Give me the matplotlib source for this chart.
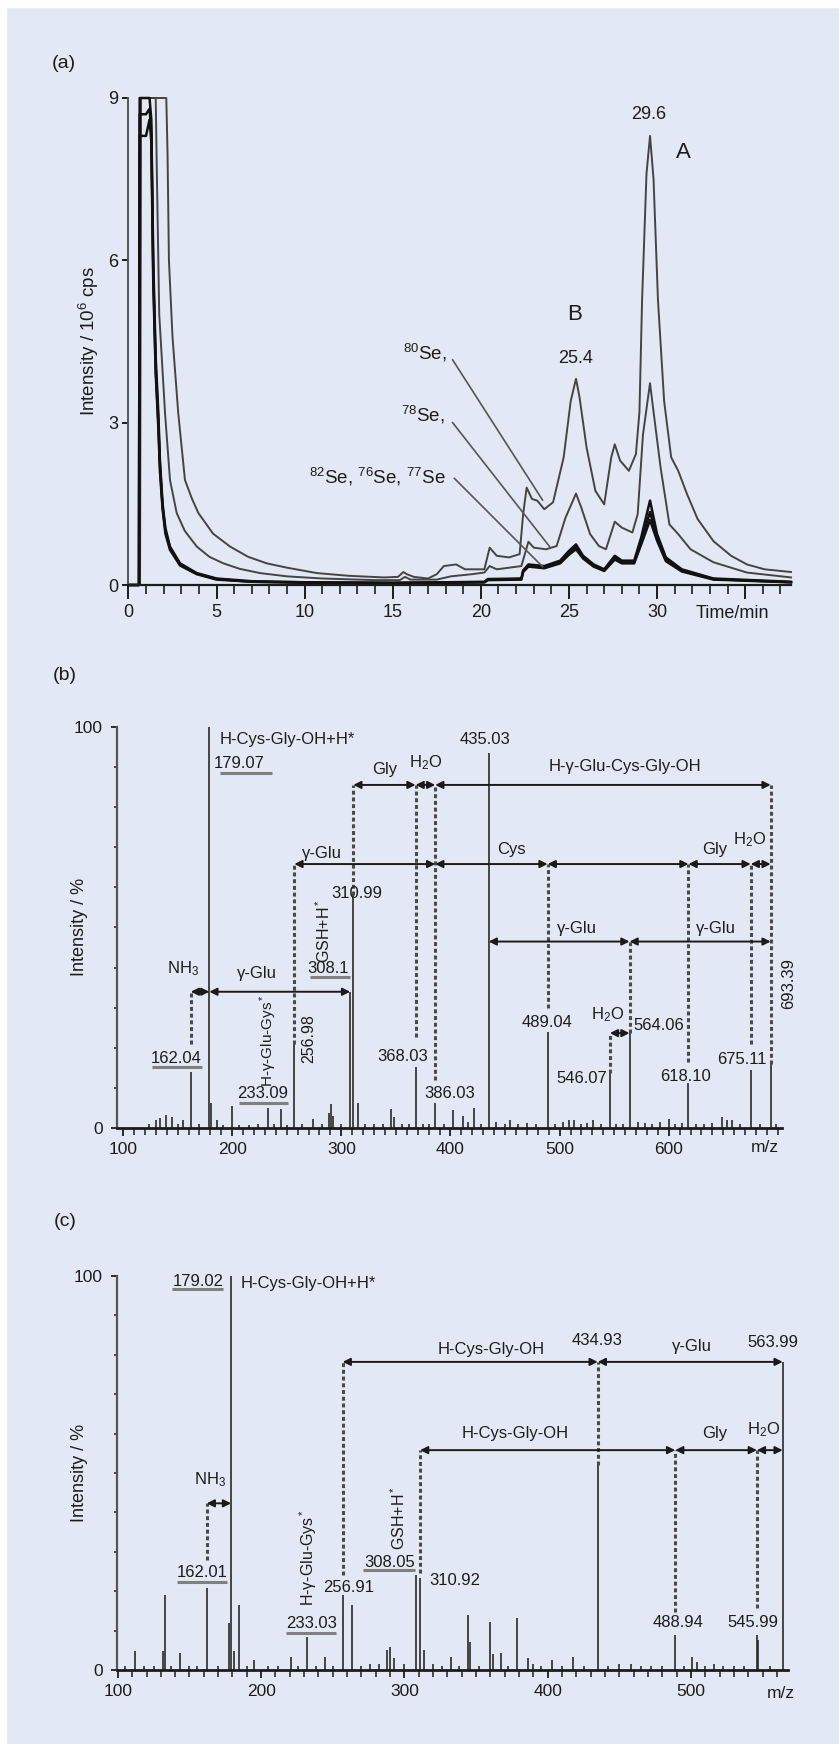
import matplotlib.pyplot as plt
from matplotlib.patches import Rectangle

plt.rcParams['font.family'] = ['Liberation Sans', 'DejaVu Sans']
plt.rcParams['mathtext.fontset'] = 'custom'
plt.rcParams['mathtext.rm'] = 'Liberation Sans'
plt.rcParams['mathtext.it'] = 'Liberation Sans:italic'
plt.rcParams['mathtext.bf'] = 'Liberation Sans:bold'

W, H = 839, 1744
BG = '#e2e9f4'
INK = '#1c1c1c'

# ---------------- data: (a) chromatogram ----------------
se80_t = [0, 0.66, 0.72, 2.15, 2.22, 2.3, 2.5, 2.83, 3.21, 3.6, 3.97, 4.8, 5.77, 6.8, 7.85, 9.0,
          10.7, 12.5, 14.5, 15.3, 15.6, 15.8, 16.2, 17.0, 17.5, 17.9, 18.6, 19.1, 20.2, 20.5,
          20.9, 21.6, 22.2, 22.4, 22.6, 22.9, 23.2, 23.6, 24.1, 24.7, 25.1, 25.4, 25.6, 26.0,
          26.5, 27.0, 27.4, 27.6, 27.9, 28.4, 28.8, 29.0, 29.15, 29.4, 29.6, 29.8, 30.05, 30.4,
          30.8, 31.2, 31.7, 32.3, 33.2, 34.2, 35.1, 36.1, 37.6]
se80_i = [0, 0, 9, 9, 8.0, 6.0, 4.6, 3.17, 1.94, 1.6, 1.33, 0.95, 0.71, 0.52, 0.40, 0.32,
          0.22, 0.17, 0.14, 0.15, 0.24, 0.20, 0.15, 0.12, 0.20, 0.35, 0.38, 0.29, 0.29, 0.69,
          0.54, 0.51, 0.57, 1.31, 1.80, 1.59, 1.56, 1.40, 1.53, 2.36, 3.40, 3.81, 3.47, 2.54,
          1.74, 1.49, 2.36, 2.60, 2.30, 2.11, 2.42, 3.2, 5.27, 7.6, 8.3, 7.5, 5.27, 3.4,
          2.36, 2.11, 1.68, 1.22, 0.81, 0.54, 0.38, 0.29, 0.24]

se78_t = [0, 0.62, 0.68, 1.55, 1.62, 1.75, 2.08, 2.36, 2.74, 3.2, 3.88, 4.6, 5.39, 6.3, 7.47,
          9.0, 11.0, 14.0, 15.4, 15.7, 16.0, 17.5, 18.3, 19.5, 20.2, 20.5, 20.9, 22.3, 22.7,
          23.0, 23.7, 24.3, 24.8, 25.4, 25.7, 26.2, 26.7, 27.1, 27.6, 28.0, 28.6, 28.9, 29.2,
          29.6, 29.8, 30.2, 30.7, 31.2, 31.9, 33.2, 35.1, 37.6]
se78_i = [0, 0, 9, 9, 7.5, 5.0, 3.17, 1.94, 1.33, 1.0, 0.71, 0.52, 0.40, 0.30, 0.22,
          0.16, 0.12, 0.09, 0.09, 0.15, 0.10, 0.10, 0.16, 0.20, 0.23, 0.35, 0.29, 0.35, 0.80,
          0.69, 0.66, 0.72, 1.24, 1.69, 1.43, 0.94, 0.72, 0.66, 1.17, 1.06, 0.97, 1.31, 2.78,
          3.73, 3.20, 2.17, 1.12, 0.94, 0.66, 0.42, 0.23, 0.14]

low_t = [0, 0.6, 0.64, 1.0, 1.2, 1.3, 1.41, 1.55, 1.70, 1.79, 1.94, 2.1, 2.36, 2.93, 3.88,
         5.0, 7.0, 10.0, 15.0, 18.0, 20.2, 20.4, 22.3, 22.4, 22.7, 23.6, 24.5, 25.0, 25.4,
         25.8, 26.4, 27.0, 27.6, 28.0, 28.7, 29.1, 29.6, 30.0, 30.5, 31.4, 33.2, 37.6]
se82_i = [0, 0, 9, 9, 9, 8.6, 6.0, 4.2, 3.17, 2.3, 1.5, 1.05, 0.71, 0.40, 0.22,
          0.12, 0.07, 0.05, 0.04, 0.05, 0.06, 0.11, 0.12, 0.27, 0.38, 0.35, 0.45, 0.63, 0.75,
          0.54, 0.38, 0.29, 0.54, 0.45, 0.45, 0.88, 1.56, 0.94, 0.51, 0.29, 0.12, 0.06]
se76_i = [0, 0, 8.7, 8.7, 8.8, 8.4, 5.8, 4.0, 3.0, 2.2, 1.45, 1.0, 0.68, 0.38, 0.21,
          0.11, 0.06, 0.05, 0.04, 0.05, 0.05, 0.10, 0.11, 0.25, 0.36, 0.33, 0.42, 0.59, 0.70,
          0.51, 0.36, 0.27, 0.50, 0.42, 0.42, 0.80, 1.35, 0.88, 0.47, 0.27, 0.11, 0.05]
se77_i = [0, 0, 8.3, 8.3, 8.6, 8.2, 5.6, 3.9, 2.9, 2.1, 1.4, 0.95, 0.65, 0.36, 0.20,
          0.10, 0.06, 0.04, 0.03, 0.04, 0.05, 0.09, 0.10, 0.24, 0.34, 0.31, 0.40, 0.56, 0.66,
          0.49, 0.34, 0.26, 0.47, 0.40, 0.40, 0.75, 1.20, 0.82, 0.44, 0.25, 0.10, 0.05]

# ---------------- data: (b) MS/MS spectrum ----------------
b_mz = [124, 129.9, 134, 139.4, 144.6, 150, 154.7, 162.04, 170, 179.07, 180.5, 186, 192,
        199.9, 206, 215, 224, 233.09, 238, 245.1, 250, 256.98, 264, 274.5, 282, 288.4,
        290.5, 292, 300, 308.1, 310.99, 315.5, 322, 330, 338, 345.7, 348, 356, 362, 368.03,
        375, 380, 386.03, 394, 402.7, 411.3, 416, 421.3, 428, 435.03, 442, 450, 455, 462,
        470, 478, 489.04, 496, 503, 509, 513, 520, 525, 531, 538, 546.07, 552, 558, 564.06,
        572, 578, 585, 592, 600, 606, 612, 618.10, 625, 632, 640, 648.8, 653, 658, 665,
        675.11, 684, 693.39, 698]
b_int = [1.0, 2.0, 2.5, 3.3, 2.9, 1.0, 2.0, 14.0, 1.0, 100, 6.2, 2.0, 0.8,
         5.5, 0.8, 0.8, 1.0, 5.0, 1.0, 4.7, 0.8, 21.0, 1.0, 2.2, 1.0, 3.7,
         6.0, 3.0, 1.0, 34.0, 58.0, 6.2, 1.0, 1.0, 1.0, 4.7, 2.9, 1.0, 1.0, 15.3,
         1.0, 1.0, 6.2, 1.0, 4.5, 3.0, 1.5, 5.0, 1.0, 93.4, 1.6, 1.0, 2.0, 1.0,
         1.2, 1.0, 24.0, 1.0, 1.5, 2.0, 2.0, 1.0, 1.2, 2.0, 1.0, 13.7, 1.0, 1.0, 23.7,
         1.5, 1.2, 1.0, 1.5, 2.2, 1.0, 1.2, 11.2, 1.0, 1.0, 1.2, 2.9, 2.0, 2.0, 1.0,
         14.5, 1.0, 16.0, 1.0]

# ---------------- data: (c) MS/MS spectrum ----------------
c_mz = [105, 112.2, 118, 125, 131.5, 132.9, 137, 143.5, 150, 155, 162.01, 170, 177.5,
        179.02, 181, 184.6, 190, 195, 205, 212, 220.8, 226, 232.3, 238, 244.8, 250, 256.91,
        263.5, 270, 276, 282, 288, 290, 293, 300, 308.05, 310.92, 314, 320, 326, 332.5, 338,
        344.1, 345.5, 352, 359.9, 362, 367.7, 372, 378.6, 386, 390, 395, 403, 410, 418, 425,
        434.93, 442, 450, 458, 465, 472, 480, 488.94, 495, 501, 504, 510, 516, 522, 530, 537,
        545.99, 547, 555, 563.99]
c_int = [1.0, 4.7, 1.0, 1.0, 4.7, 19.0, 1.0, 4.2, 1.0, 1.0, 20.7, 1.0, 12.0,
         100, 4.7, 16.5, 1.0, 2.5, 1.0, 1.0, 3.4, 1.0, 8.5, 1.0, 3.4, 1.0, 19.0,
         16.5, 1.0, 1.5, 1.5, 5.0, 5.9, 3.0, 1.5, 24.1, 23.3, 5.0, 1.5, 1.0, 3.4, 1.0,
         14.0, 7.0, 1.0, 12.3, 4.0, 4.2, 1.0, 13.1, 3.0, 1.5, 1.0, 2.5, 1.0, 3.4, 1.0,
         52.0, 1.0, 1.5, 1.5, 1.0, 1.0, 1.0, 8.9, 1.0, 3.4, 2.0, 1.0, 1.5, 1.0, 1.0, 1.0,
         8.9, 7.6, 1.0, 78.2]

# fragment relations: arrow segments per row level
b_rows = {
    85.5: [(310.99, 368.03), (368.03, 386.03), (386.03, 693.39)],
    65.8: [(256.98, 386.03), (386.03, 489.04), (489.04, 618.10), (618.10, 675.11), (675.11, 693.39)],
    46.5: [(435.03, 564.06), (564.06, 693.39)],
    34.0: [(162.04, 179.07), (179.07, 308.1)],
    23.7: [(546.07, 564.06)],
}
c_rows = {
    78.2: [(256.91, 434.93), (434.93, 563.99)],
    55.8: [(310.92, 488.94), (488.94, 545.99), (545.99, 563.99)],
    42.3: [(162.01, 179.02)],
}
b_links = [(162.04, 21.0, 34.0), (256.98, 21.0, 65.8), (310.99, 58.0, 85.5), (368.03, 22.8, 85.5),
           (386.03, 12.0, 85.5), (489.04, 30.0, 65.8), (546.07, 13.7, 23.7), (564.06, 23.7, 46.5),
           (618.10, 16.6, 65.8), (675.11, 21.0, 65.8), (693.39, 16.0, 85.5)]
c_links = [(162.01, 27.9, 42.3), (256.91, 24.1, 78.2), (310.92, 24.5, 55.8), (434.93, 52.0, 78.2),
           (488.94, 14.8, 55.8), (545.99, 15.7, 55.8)]


def fx(x):
    return x / W


def fy(y):
    return 1 - y / H


fig = plt.figure(figsize=(W / 100, H / 100), dpi=100, facecolor=BG)
fig.patches.append(Rectangle((0, fy(7)), 1, 7 / H, transform=fig.transFigure, color='white', zorder=0))
fig.patches.append(Rectangle((0, 0), 6 / W, 1, transform=fig.transFigure, color='white', zorder=0))


def style_axes(ax):
    ax.set_facecolor('none')
    for s in ['top', 'right']:
        ax.spines[s].set_visible(False)
    ax.spines['left'].set_color('#555')
    ax.spines['bottom'].set_color(INK)
    ax.tick_params(colors=INK, which='both', direction='out')


# ---------------- panel (a) ----------------
ax = fig.add_axes([fx(128.4), fy(585), 662.6 / W, 487 / H])
style_axes(ax)
ax.plot(se80_t, se80_i, color='#444', lw=1.4, clip_on=False)
ax.plot(se78_t, se78_i, color='#444', lw=1.4, clip_on=False)
for vals in [se82_i, se76_i, se77_i]:
    ax.plot(low_t, vals, color='#111', lw=1.8, clip_on=False)
ax.set_xlim(0, 37.6)
ax.set_ylim(0, 9)
ax.spines['left'].set_linewidth(1.4)
ax.spines['bottom'].set_linewidth(1.6)
ax.set_xticks(range(0, 36, 5))
ax.set_xticklabels(['0', '5', '10', '15', '20', '25', '30', ''])
ax.set_xticks(range(0, 38), minor=True)
ax.set_yticks([0, 3, 6, 9])
ax.tick_params(axis='x', which='major', length=10, width=1.4, pad=4, labelsize=13)
ax.tick_params(axis='x', which='minor', length=6.5, width=1.2)
ax.tick_params(axis='y', which='major', length=4.5, width=1.4, pad=3, labelsize=13)
ax.text(34.3, -0.52, 'Time/min', ha='center', va='center', fontsize=13, color=INK, clip_on=False)
ax.text(29.5, 8.69, '29.6', ha='center', va='center', fontsize=13, color=INK)
ax.text(31.5, 7.99, 'A', ha='center', va='center', fontsize=16, color=INK)
ax.text(25.3, 4.99, 'B', ha='center', va='center', fontsize=16, color=INK)
ax.text(25.4, 4.18, '25.4', ha='center', va='center', fontsize=13, color=INK)
ax.text(18.06, 4.29, r'$^{80}$Se,', ha='right', va='center', fontsize=13.5, color=INK)
ax.text(17.97, 3.14, r'$^{78}$Se,', ha='right', va='center', fontsize=13.5, color=INK)
ax.text(18.0, 2.0, r'$^{82}$Se, $^{76}$Se, $^{77}$Se', ha='right', va='center', fontsize=13.5, color=INK)
ax.plot([18.4, 23.5], [4.16, 1.57], color='#555', lw=1.2)
ax.plot([18.4, 23.9], [3.0, 0.71], color='#555', lw=1.2)
ax.plot([18.5, 23.5], [1.97, 0.34], color='#555', lw=1.2)
fig.text(fx(64), fy(63), '(a)', ha='center', va='center', fontsize=14, color=INK)
fig.text(fx(89), fy(341), r'Intensity / 10$^6$ cps', rotation=90, ha='center', va='center',
         fontsize=13.5, color=INK)


# ---------------- spectra helpers ----------------
def spectrum(ax, mz, inten, rows, links, xlim, xmaj, xmin_ticks):
    style_axes(ax)
    ax.vlines(mz, 0, inten, color='#2a2a2a', lw=1.2)
    ax.set_xlim(*xlim)
    ax.set_ylim(0, 100)
    ax.spines['left'].set_linewidth(1.6)
    ax.spines['bottom'].set_linewidth(2.0)
    ax.set_xticks(xmaj)
    ax.set_xticks(xmin_ticks, minor=True)
    ax.set_yticks([0, 100])
    ax.set_yticks(range(10, 100, 10), minor=True)
    ax.tick_params(axis='x', which='major', length=6, width=1.3, pad=4, labelsize=12.5)
    ax.tick_params(axis='x', which='minor', length=5, width=1.1)
    ax.tick_params(axis='y', which='major', length=4, width=1.3, pad=6, labelsize=12.5)
    ax.tick_params(axis='y', which='minor', length=2.5, width=1.1)
    for m, y0, y1 in links:
        ax.plot([m, m], [y0, y1], color='#4a4a4a', lw=2.2, ls=(0, (1.3, 0.9)), clip_on=False)
    for y, segs in rows.items():
        for a, b in segs:
            ax.annotate('', xy=(b, y), xytext=(a, y),
                        arrowprops=dict(arrowstyle='<|-|>', color='#1a1a1a', lw=1.4,
                                        mutation_scale=11, shrinkA=0, shrinkB=0))


def label(ax, x, y, s, **kw):
    kw.setdefault('ha', 'center')
    kw.setdefault('va', 'center')
    kw.setdefault('fontsize', 12)
    ax.text(x, y, s, color=INK, clip_on=False, **kw)


def underline(ax, x0, x1, y):
    ax.plot([x0, x1], [y, y], color='#808080', lw=2.2, solid_capstyle='butt', clip_on=False)


# ---------------- panel (b) ----------------
ax = fig.add_axes([fx(116.7), fy(1128.3), 665 / W, 401.6 / H])
spectrum(ax, b_mz, b_int, b_rows, b_links, (94.2, 703.5), range(100, 601, 100), range(100, 701, 10))
bx = lambda px: 100 + (px - 123) / 1.0915
label(ax, bx(220), 96.7, 'H-Cys-Gly-OH+H*', ha='left')
label(ax, 206.5, 90.9, '179.07')
underline(ax, bx(220), bx(272), 88.4)
label(ax, 148.6, 17.4, '162.04')
underline(ax, bx(151.7), bx(201.7), 15.2)
label(ax, 227.6, 8.7, '233.09')
underline(ax, bx(239.3), bx(288.3), 6.4)
label(ax, 233.1, 21.8, r'H-γ-Glu-Gys$^*$', rotation=90, fontsize=11)
label(ax, 269.8, 22.4, '256.98', rotation=90, fontsize=11.5)
label(ax, 283.5, 49.0, r'GSH+H$^*$', rotation=90, fontsize=11.5)
label(ax, 288.1, 39.8, '308.1')
underline(ax, bx(310), bx(350), 37.7)
label(ax, 314.1, 58.5, '310.99')
label(ax, 356.5, 17.8, '368.03')
label(ax, 399.6, 8.7, '386.03')
label(ax, 431.5, 96.7, '435.03')
label(ax, 488.2, 26.3, '489.04')
label(ax, 520.2, 12.4, '546.07')
label(ax, 591.3, 25.7, '564.06')
label(ax, 615.5, 13.0, '618.10')
label(ax, 666.8, 17.2, '675.11')
label(ax, 709.5, 36.1, '693.39', rotation=90)
label(ax, 339.5, 89.3, 'Gly')
label(ax, 377.6, 91.0, r'H$_2$O')
label(ax, 560.0, 90.2, 'H-γ-Glu-Cys-Gly-OH')
label(ax, 282.0, 68.5, 'γ-Glu')
label(ax, 455.5, 69.3, 'Cys')
label(ax, 642.4, 69.5, 'Gly')
label(ax, 674.5, 71.8, r'H$_2$O')
label(ax, 515.6, 49.8, 'γ-Glu')
label(ax, 643.4, 49.8, 'γ-Glu')
label(ax, 155.4, 39.8, r'NH$_3$')
label(ax, 222.5, 38.6, 'γ-Glu')
label(ax, 543.5, 28.2, r'H$_2$O')
label(ax, bx(765), -4.9, 'm/z', fontsize=12.5)
fig.text(fx(65), fy(675), '(b)', ha='center', va='center', fontsize=14, color=INK)
fig.text(fx(79), fy(926.7), 'Intensity / %', rotation=90, ha='center', va='center',
         fontsize=13, color=INK)

# ---------------- panel (c) ----------------
ax = fig.add_axes([fx(116.7), fy(1670), 671.3 / W, 394 / H])
spectrum(ax, c_mz, c_int, c_rows, c_links, (99.2, 567.7), range(100, 501, 100), range(100, 561, 10))
cx = lambda px: 100 + (px - 117.8) / 1.4331
label(ax, 156.2, 98.7, '179.02')
underline(ax, cx(172.3), cx(222.7), 96.6)
label(ax, cx(240.7), 98.1, 'H-Cys-Gly-OH+H*', ha='left')
label(ax, 159.0, 24.7, '162.01')
underline(ax, cx(176.7), cx(226.7), 22.4)
label(ax, 235.5, 11.7, '233.03')
underline(ax, cx(286), cx(335.6), 9.5)
label(ax, 232.9, 28.6, r'H-γ-Glu-Gys$^*$', rotation=90, fontsize=11.5)
label(ax, 260.9, 21.0, '256.91')
label(ax, 295.8, 38.5, r'GSH+H$^*$', rotation=90, fontsize=11.5)
label(ax, 289.4, 27.3, '308.05')
underline(ax, cx(363.3), cx(415), 25.4)
label(ax, 335.3, 22.8, '310.92')
label(ax, 490.7, 12.0, '488.94')
label(ax, 543.4, 12.0, '545.99')
label(ax, 360.9, 81.4, 'H-Cys-Gly-OH')
label(ax, 434.2, 83.6, '434.93')
label(ax, 500.4, 82.1, 'γ-Glu')
label(ax, 557.4, 83.1, '563.99')
label(ax, 377.2, 60.1, 'H-Cys-Gly-OH')
label(ax, 516.7, 60.1, 'Gly')
label(ax, 550.4, 60.9, r'H$_2$O')
label(ax, 164.3, 48.2, r'NH$_3$')
label(ax, cx(781), -5.9, 'm/z', fontsize=12.5)
fig.text(fx(65), fy(1221.7), '(c)', ha='center', va='center', fontsize=14, color=INK)
fig.text(fx(79), fy(1473.3), 'Intensity / %', rotation=90, ha='center', va='center',
         fontsize=13, color=INK)

fig.savefig('out.png', dpi=100, facecolor=BG)
